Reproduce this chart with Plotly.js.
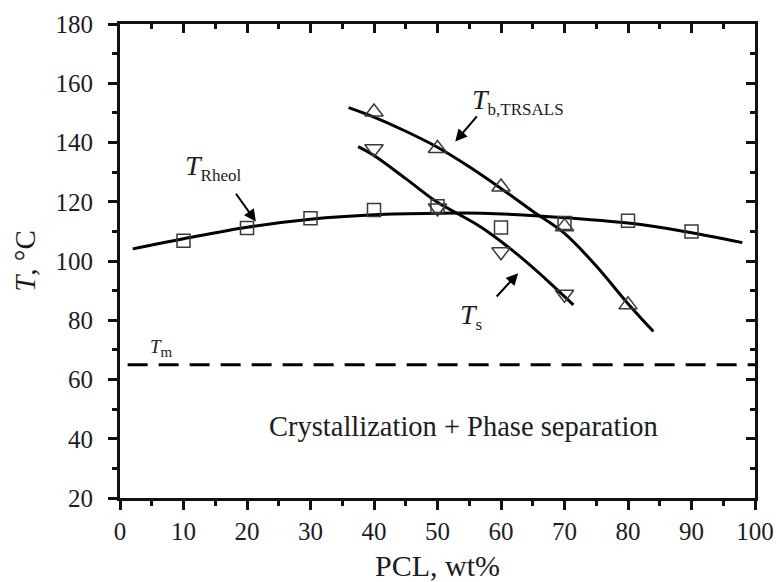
<!DOCTYPE html>
<html>
<head>
<meta charset="utf-8">
<script src="https://cdn.plot.ly/plotly-3.0.1.min.js"></script>
<style>html,body{margin:0;padding:0;background:#fff;}#chart{width:776px;height:582px;}</style>
</head>
<body>
<div id="chart"></div>
<script>
// ---- data ----
const rheolX = [10, 20, 30, 40, 50, 60, 70, 80, 90];
const rheolY = [106.8, 111.1, 114.4, 117.2, 118.5, 111.3, 112.8, 113.6, 110.0];

const tbX = [40, 50, 60, 70, 80];
const tbY = [150.3, 138.0, 125.0, 111.6, 85.2];

const tsX = [40, 50, 60, 70];
const tsY = [137.9, 117.9, 103.1, 88.8];

// fitted curves
const rheolFitX = [2, 10, 20, 30, 40, 50, 57, 66, 80, 88, 98];
const rheolFitY = [104.1, 107.5, 111.4, 114.1, 115.6, 116.1, 116.1, 115.2, 112.8, 110.3, 106.2];

const tbFitX = [36, 40, 45, 50, 55, 60, 65, 70, 75, 80, 84];
const tbFitY = [151.8, 148.6, 143.8, 138.4, 131.8, 124.5, 116.8, 109.3, 98.3, 85.6, 76.2];

const tsFitX = [37.5, 40, 45, 50, 54, 57, 63, 67, 71.4];
const tsFitY = [138.6, 135.6, 127.8, 119.8, 115.0, 111.2, 101.5, 94.0, 85.2];

const tmX = [1.2, 100];
const tmY = [65, 65];

const xTicks = [0, 10, 20, 30, 40, 50, 60, 70, 80, 90, 100];
const yTicks = [20, 40, 60, 80, 100, 120, 140, 160, 180];

const SERIF = 'Liberation Serif, Times New Roman, serif';
const INK = '#1c1c24';

const lineStyle = {color: '#000', width: 3, shape: 'spline', smoothing: 1};
const markLine = {color: '#3a3a3a', width: 1.5};

const traces = [
  {x: rheolFitX, y: rheolFitY, mode: 'lines', line: lineStyle, hoverinfo: 'skip'},
  {x: tbFitX, y: tbFitY, mode: 'lines', line: lineStyle, hoverinfo: 'skip'},
  {x: tsFitX, y: tsFitY, mode: 'lines', line: lineStyle, hoverinfo: 'skip'},
  {x: rheolX, y: rheolY, mode: 'markers', marker: {symbol: 'square-open', size: 13, color: '#3a3a3a', line: markLine}},
  {x: tbX, y: tbY, mode: 'markers', marker: {symbol: 'triangle-up-open', size: 16, color: '#3a3a3a', line: markLine}},
  {x: tsX, y: tsY, mode: 'markers', marker: {symbol: 'triangle-down-open', size: 16, color: '#3a3a3a', line: markLine}},
  {x: tmX, y: tmY, xaxis: 'x2', yaxis: 'y2', mode: 'lines', line: {color: '#000', width: 3, dash: '20px,11px'}, hoverinfo: 'skip'}
];

const axisCommon = {
  showline: true, linewidth: 3, linecolor: '#111', showgrid: false, zeroline: false,
  tickwidth: 3, tickcolor: '#111', ticklen: 9,
  tickfont: {family: SERIF, size: 25, color: INK}
};

const sub = (s, px) => '<sub><span style="font-size:' + px + 'px">' + s + '</span></sub>';

const layout = {
  width: 776, height: 582,
  margin: {l: 120, r: 21, t: 24, b: 84},
  paper_bgcolor: '#fff', plot_bgcolor: '#fff',
  showlegend: false,
  font: {family: SERIF, color: INK},
  xaxis: Object.assign({}, axisCommon, {
    range: [0, 100], tickvals: xTicks, ticks: 'outside',
    minor: {ticks: 'outside', ticklen: 5, tickwidth: 3, tickcolor: '#111', dtick: 5, tick0: 0},
    title: {text: 'PCL, wt%', font: {family: SERIF, size: 30, color: INK}, standoff: 20}
  }),
  yaxis: Object.assign({}, axisCommon, {
    range: [20, 180], tickvals: yTicks, ticks: 'outside', ticklabelstandoff: 10,
    minor: {ticks: 'outside', ticklen: 5, tickwidth: 3, tickcolor: '#111', dtick: 10, tick0: 0},
    title: {text: '<i>T</i>, °C', font: {family: SERIF, size: 29, color: INK}, standoff: 12}
  }),
  xaxis2: Object.assign({}, axisCommon, {
    range: [0, 100], overlaying: 'x', side: 'top', anchor: 'y', tickvals: xTicks,
    ticks: 'inside', showticklabels: false,
    minor: {ticks: 'inside', ticklen: 5, tickwidth: 3, tickcolor: '#111', dtick: 5, tick0: 0}
  }),
  yaxis2: Object.assign({}, axisCommon, {
    range: [20, 180], overlaying: 'y', side: 'right', anchor: 'x', tickvals: yTicks,
    ticks: 'inside', showticklabels: false,
    minor: {ticks: 'inside', ticklen: 5, tickwidth: 3, tickcolor: '#111', dtick: 10, tick0: 0}
  }),
  annotations: [
    // arrows
    {x: 21.4, y: 113.3, ax: 18.1, ay: 123.2, axref: 'x', ayref: 'y', xref: 'x', yref: 'y',
     text: '', showarrow: true, arrowhead: 2, arrowsize: 1.2, arrowwidth: 2, arrowcolor: '#000'},
    {x: 52.8, y: 140.3, ax: 56.4, ay: 149.3, axref: 'x', ayref: 'y', xref: 'x', yref: 'y',
     text: '', showarrow: true, arrowhead: 2, arrowsize: 1.2, arrowwidth: 2, arrowcolor: '#000'},
    {x: 62.7, y: 95.9, ax: 59.1, ay: 87.5, axref: 'x', ayref: 'y', xref: 'x', yref: 'y',
     text: '', showarrow: true, arrowhead: 2, arrowsize: 1.2, arrowwidth: 2, arrowcolor: '#000'},
    // labels
    {x: 9.9, y: 131.5, xref: 'x', yref: 'y', xanchor: 'left', yanchor: 'middle', showarrow: false,
     text: '<i>T</i>' + sub('Rheol', 17), font: {family: SERIF, size: 28, color: INK}},
    {x: 55.1, y: 153.8, xref: 'x', yref: 'y', xanchor: 'left', yanchor: 'middle', showarrow: false,
     text: '<i>T</i>' + sub('b,TRSALS', 17), font: {family: SERIF, size: 28, color: INK}},
    {x: 53.2, y: 81.2, xref: 'x', yref: 'y', xanchor: 'left', yanchor: 'middle', showarrow: false,
     text: '<i>T</i>' + sub('s', 17), font: {family: SERIF, size: 28, color: INK}},
    {x: 4.4, y: 70.8, xref: 'x', yref: 'y', xanchor: 'left', yanchor: 'middle', showarrow: false,
     text: '<i>T</i>' + sub('m', 15), font: {family: SERIF, size: 19, color: INK}},
    {x: 54.1, y: 44.1, xref: 'x', yref: 'y', xanchor: 'center', yanchor: 'middle', showarrow: false,
     text: 'Crystallization + Phase separation', font: {family: SERIF, size: 28.5, color: INK}}
  ]
};

Plotly.newPlot('chart', traces, layout, {staticPlot: true, displayModeBar: false});
</script>
</body>
</html>
